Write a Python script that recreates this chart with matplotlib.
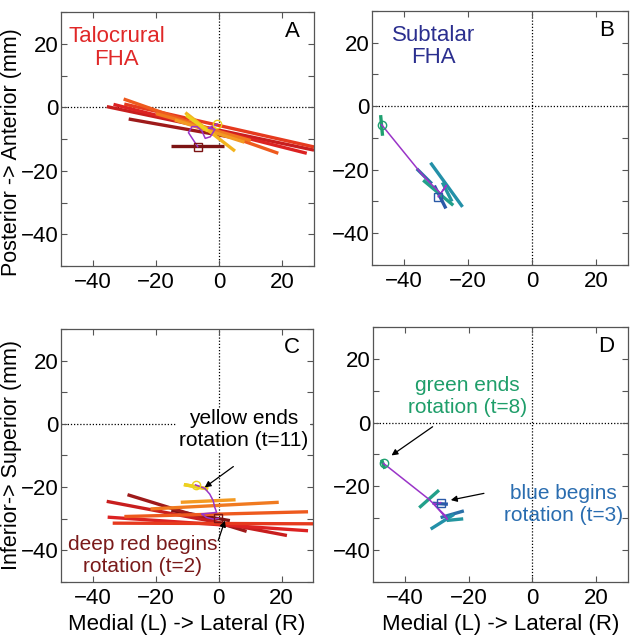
import numpy as np
import matplotlib
matplotlib.use("Agg")
import matplotlib.pyplot as plt
from matplotlib.ticker import MultipleLocator

plt.rcParams['font.family'] = ['Liberation Sans', 'DejaVu Sans']

# ---------------------
# data (mm)
# ---------------------
# talocrural FHA, t=2..11, deep red -> yellow
tc_colors = ["#7c1414", "#9e1a1a", "#c81e1e", "#dc2222", "#e63a1e",
             "#ee5a1e", "#f07a20", "#f39a22", "#f3b41e", "#ecd21e"]

# panel A (x-y) segments: x1, y1, x2, y2
a_x1 = [-15.2, -28.6, -35.5, -33.4, -30.0, -30.2, -20.0, -14.0, -10.7, -10.5]
a_y1 = [-12.1, -3.7, 0.2, 0.9, 1.0, 2.6, -2.0, -4.0, -1.7, -2.5]
a_x2 = [1.4, 8.7, 30.0, 27.7, 30.0, 18.7, 10.0, 8.0, 5.0, -3.5]
a_y2 = [-12.1, -10.3, -13.5, -14.5, -12.5, -14.5, -10.5, -11.0, -13.8, -7.5]
a_px = [-6.8, -9.7, -8.6, -7.0, -5.5, -4.4, -2.8, -1.3, -3.4, -0.7]
a_py = [-12.4, -8.0, -6.1, -6.1, -7.4, -9.8, -9.3, -6.9, -6.6, -5.3]

# panel C (x-z) segments
c_x1 = [-15.0, -28.9, -35.5, -35.2, -33.6, -29.9, -21.6, -12.0, -11.0, -11.0]
c_y1 = [-27.4, -22.4, -24.5, -29.5, -31.4, -29.3, -26.9, -24.8, -19.2, -19.2]
c_x2 = [3.6, 8.9, 21.7, 28.4, 30.0, 28.4, 19.1, 5.4, -3.3, -3.3]
c_y2 = [-30.6, -34.0, -35.3, -33.8, -31.6, -27.8, -24.8, -24.0, -20.6, -20.6]
c_px = [-0.1, -1.7, -3.8, -5.4, -0.6, -1.2, -1.7, -2.8, -4.4, -7.3]
c_py = [-29.9, -30.1, -29.6, -28.5, -28.0, -26.4, -24.3, -22.2, -20.4, -19.3]

# subtalar FHA, t=3..8, blue -> green
st_colors = ["#2a5aa8", "#2a70a8", "#2390a8", "#2496a0", "#22a08a", "#1fa070"]

# panel B (x-y)
b_x1 = [-30.5, -36.0, -31.7, -28.0, -34.0, -47.3]
b_y1 = [-25.0, -19.7, -17.8, -24.0, -23.3, -2.8]
b_x2 = [-26.9, -31.3, -21.7, -25.0, -24.6, -46.7]
b_y2 = [-32.2, -24.4, -31.7, -30.0, -31.2, -9.3]
b_px = [-29.3, -26.7, -28.5, -32.0, -35.0, -47.0]
b_py = [-28.5, -24.9, -27.5, -24.0, -20.7, -5.8]

# panel D (x-z)
d_x1 = [-31.3, -28.8, -31.9, -26.9, -35.5, -47.3]
d_y1 = [-25.3, -29.8, -33.4, -30.7, -26.7, -11.6]
d_x2 = [-26.5, -21.5, -24.6, -21.7, -29.3, -46.3]
d_y2 = [-25.6, -27.7, -28.8, -30.2, -21.2, -14.5]
d_px = [-28.8, -31.0, -26.7, -27.5, -32.4, -46.7]
d_py = [-25.1, -25.5, -30.3, -29.0, -24.1, -12.8]

path_color = "#9a34c8"

fig = plt.figure(figsize=(6.43, 6.35), dpi=100)
axA = fig.add_axes([0.0949, 0.5811, 0.3935, 0.400])
axB = fig.add_axes([0.5785, 0.5827, 0.3981, 0.400])
axC = fig.add_axes([0.0949, 0.0835, 0.3920, 0.3984])
axD = fig.add_axes([0.5801, 0.0835, 0.3966, 0.4016])


def draw_panel(ax, x1, y1, x2, y2, px, py, colors):
    for i in range(len(x1)):
        ax.plot([x1[i], x2[i]], [y1[i], y2[i]], color=colors[i], lw=2.4,
                solid_capstyle="butt", zorder=2)
    ax.plot(px, py, color=path_color, lw=1.1, zorder=3)
    ax.plot(px[0], py[0], marker="s", ms=6, mfc="none", mec=colors[0],
            mew=1.0, zorder=4)
    ax.plot(px[-1], py[-1], marker="o", ms=6, mfc="none", mec=colors[-1],
            mew=1.0, zorder=4)


def style(ax):
    ax.set_xlim(-50, 30)
    ax.set_ylim(-50, 30)
    ax.axhline(0, color="black", ls=(0, (1, 1.5)), lw=0.9, zorder=1)
    ax.axvline(0, color="black", ls=(0, (1, 1.5)), lw=0.9, zorder=1)
    ax.set_xticks([-40, -20, 0, 20])
    ax.set_yticks([-40, -20, 0, 20])
    ax.yaxis.set_minor_locator(MultipleLocator(10))
    ax.tick_params(which="both", direction="in", top=True, right=True,
                   length=4, width=0.8, color="#555555", labelsize=16)
    ax.tick_params(axis="y", pad=2)
    ax.tick_params(axis="x", pad=4)
    for s in ax.spines.values():
        s.set_color("#555555")
        s.set_linewidth(0.9)


draw_panel(axA, a_x1, a_y1, a_x2, a_y2, a_px, a_py, tc_colors)
draw_panel(axB, b_x1, b_y1, b_x2, b_y2, b_px, b_py, st_colors)
draw_panel(axC, c_x1, c_y1, c_x2, c_y2, c_px, c_py, tc_colors)
draw_panel(axD, d_x1, d_y1, d_x2, d_y2, d_px, d_py, st_colors)

for ax, letter in zip([axA, axB, axC, axD], "ABCD"):
    style(ax)
    ax.text(0.915, 0.925, letter, transform=ax.transAxes, fontsize=16,
            ha="center", va="center")

axA.text(0.22, 0.858, "Talocrural\nFHA", transform=axA.transAxes,
         color="#e02828", fontsize=16, ha="center", va="center",
         linespacing=1.1)
axB.text(0.24, 0.86, "Subtalar\nFHA", transform=axB.transAxes,
         color="#2b2f8f", fontsize=16, ha="center", va="center",
         linespacing=1.1)

axA.set_ylabel("Posterior -> Anterior (mm)", fontsize=15.5)
axC.set_ylabel("Inferior-> Superior (mm)", fontsize=15.5)
axA.yaxis.set_label_coords(-0.155, 0.45)
axC.yaxis.set_label_coords(-0.155, 0.5)
axC.set_xlabel("Medial (L) -> Lateral (R)", fontsize=16, labelpad=4)
axD.set_xlabel("Medial (L) -> Lateral (R)", fontsize=16, labelpad=4)

# annotations: text, then arrow (tail -> head)
arrow = dict(arrowstyle="-|>", color="black", lw=0.9, shrinkA=0, shrinkB=0,
             mutation_scale=9)

axC.text(7.9, -1.8, "yellow ends\nrotation (t=11)", fontsize=15,
         ha="center", va="center", bbox=dict(fc="white", ec="none", pad=1))
axC.annotate("", xy=(-4.4, -20.1), xytext=(4.7, -13.5), arrowprops=arrow)

axC.text(-24.0, -41.6, "deep red begins\nrotation (t=2)", fontsize=15,
         ha="center", va="center", color="#7a1a1a")
axC.annotate("", xy=(2.0, -30.6), xytext=(-0.1, -36.9), arrowprops=arrow)

axD.text(-20.4, 8.2, "green ends\nrotation (t=8)", fontsize=15,
         ha="center", va="center", color="#1f9e6a")
axD.annotate("", xy=(-44.2, -10.3), xytext=(-31.3, -1.3), arrowprops=arrow)

axD.text(9.8, -25.6, "blue begins\nrotation (t=3)", fontsize=15,
         ha="center", va="center", color="#2a6db0")
axD.annotate("", xy=(-25.6, -24.3), xytext=(-15.2, -22.2), arrowprops=arrow)

fig.savefig("out.png", dpi=100)
